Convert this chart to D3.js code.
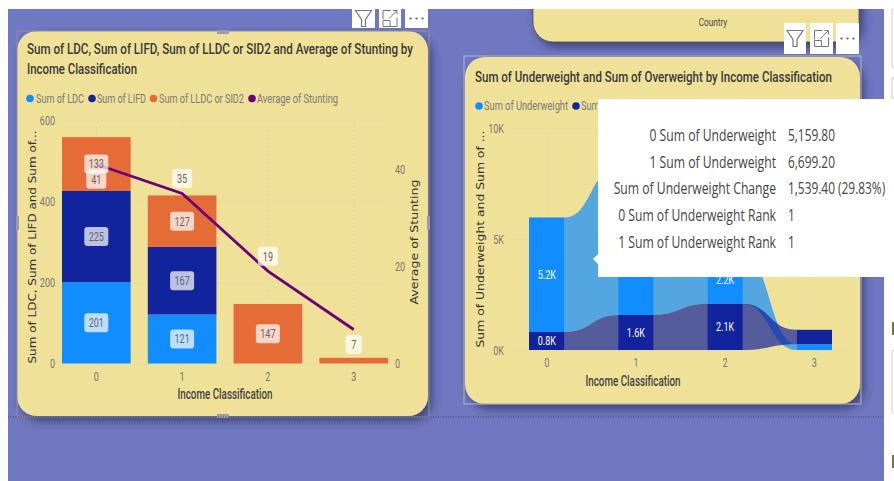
<!DOCTYPE html>
<html>
<head>
<meta charset="utf-8">
<script src="https://cdn.jsdelivr.net/npm/d3@7"></script>
<style>
  html, body { margin: 0; padding: 0; background: #fff; overflow: hidden; }
  svg { display: block; }
  .tick text { font-family: Roboto, sans-serif; }
</style>
</head>
<body>
<svg id="chart" width="894" height="481"></svg>
<script>
// left chart values
var categories = ["0", "1", "2", "3"];
var ldc = [201, 121, 0, 0];
var lifd = [225, 167, 0, 0];
var lldc = [133, 127, 147, 14];
var stunting = [41, 35, 19, 7];
var stuntingLabelBelow = [true, false, false, true];
var leftTicks = [0, 200, 400, 600];
var stuntingTicks = [0, 20, 40];

// right chart values
var underweight = [5159.8, 6699.2, 2200, 260];
var overweight = [810, 1580, 2080, 650];
var ribbonTicks = [0, 5000, 10000];

// tooltip rows
var tipNames = ["0 Sum of Underweight", "1 Sum of Underweight", "Sum of Underweight Change", "0 Sum of Underweight Rank", "1 Sum of Underweight Rank"];
var tipValues = ["5,159.80", "6,699.20", "1,539.40 (29.83%)", "1", "1"];

var blue = "#118DFF", navy = "#12239E", orange = "#E66C37", purple = "#6B007B";
var cardFill = "#EFE197", pageFill = "#7078C1";
var narrow = 'Roboto, sans-serif';

var svg = d3.select("#chart");
var defs = svg.append("defs");
var shadow = defs.append("filter").attr("id", "shadow")
  .attr("x", "-10%").attr("y", "-10%").attr("width", "125%").attr("height", "125%");
shadow.append("feDropShadow").attr("dx", 4).attr("dy", 5).attr("stdDeviation", 5)
  .attr("flood-color", "#2a2d55").attr("flood-opacity", 0.7);

function squeeze(t, k) {
  t.attr("textLength", t.node().getComputedTextLength() * k).attr("lengthAdjust", "spacingAndGlyphs");
}

function txt(parent, x, y, s, o) {
  o = o || {};
  var t = parent.append("text")
    .attr("x", x).attr("y", y).attr("dy", "0.35em")
    .attr("text-anchor", o.anchor || "start")
    .attr("font-family", o.font || narrow)
    .attr("font-size", o.size || 10)
    .attr("font-weight", o.weight || 400)
    .attr("fill", o.color || "#333")
    .text(s);
  if (o.len) t.attr("textLength", o.len).attr("lengthAdjust", "spacingAndGlyphs");
  if (o.squeeze) squeeze(t, o.squeeze);
  if (o.rotate) t.attr("transform", "rotate(-90 " + x + " " + y + ")");
  return t;
}

function card(x, y, w, h) {
  svg.append("rect").attr("x", x).attr("y", y).attr("width", w).attr("height", h)
    .attr("rx", 20).attr("fill", cardFill).attr("filter", "url(#shadow)");
}

function iconBox(x, y, w, h, kind) {
  var g = svg.append("g").attr("transform", "translate(" + x + "," + y + ")");
  g.append("rect").attr("width", w).attr("height", h).attr("fill", "#fff");
  var cx = w / 2, cy = h / 2;
  if (kind == "filter") {
    g.append("path").attr("d", "M" + (cx - 8) + " " + (cy - 8) + "H" + (cx + 8) + "L" + (cx + 2) + " " + (cy + 1) + "V" + (cy + 8) + "H" + (cx - 2) + "V" + (cy + 1) + "Z")
      .attr("fill", "none").attr("stroke", "#777").attr("stroke-width", 1.2);
  } else if (kind == "focus") {
    g.append("path").attr("d", "M" + (cx - 7) + " " + (cy + 1) + "V" + (cy - 8) + "H" + (cx + 1) + "M" + (cx + 7) + " " + (cy - 1) + "V" + (cy + 8) + "H" + (cx - 7) + "V" + (cy + 2) + "H" + cx + "V" + (cy + 8) + "M" + (cx - 1) + " " + cy + "L" + (cx + 7) + " " + (cy - 8) + "M" + (cx + 3) + " " + (cy - 8) + "H" + (cx + 7) + "V" + (cy - 4))
      .attr("fill", "none").attr("stroke", "#777").attr("stroke-width", 1);
  } else {
    [-6, 0, 6].forEach(function (d) {
      g.append("circle").attr("cx", cx + d).attr("cy", cy).attr("r", 1.1).attr("fill", "#555");
    });
  }
}

function legend(items, y) {
  items.forEach(function (d) {
    svg.append("circle").attr("cx", d.dot).attr("cy", y).attr("r", 3.8).attr("fill", d.color);
    txt(svg, d.text, y, d.name, { size: 12.5, color: "#7a7a7a", len: d.len });
  });
}

function styleAxis(g) {
  g.select(".domain").remove();
  g.selectAll(".tick line").attr("stroke", "#d9d2a6").attr("stroke-dasharray", "1,3").attr("stroke-width", 1);
  g.selectAll(".tick text").attr("fill", "#777").attr("font-size", 12.5)
    .each(function () { squeeze(d3.select(this), 0.72); });
}

// page background
svg.append("rect").attr("x", 8).attr("y", 9).attr("width", 876).attr("height", 472).attr("fill", pageFill);

// top card, mostly off the crop
svg.append("rect").attr("x", 533).attr("y", -30).attr("width", 326).attr("height", 72)
  .attr("rx", 20).attr("fill", cardFill).attr("stroke", "#4a4a55").attr("stroke-width", 0.8).attr("filter", "url(#shadow)");
txt(svg, 713, 22, "Country", { anchor: "middle", size: 10.5, color: "#444", squeeze: 0.78 });
svg.append("rect").attr("x", 0).attr("y", 0).attr("width", 894).attr("height", 9).attr("fill", "#fff");

// ---- left chart
card(17, 31, 411, 385);
txt(svg, 27, 49, "Sum of LDC, Sum of LIFD, Sum of LLDC or SID2 and Average of Stunting by", { size: 15.5, weight: 500, color: "#3a3a3a", len: 386 });
txt(svg, 27, 69, "Income Classification", { size: 15.5, weight: 500, color: "#3a3a3a", len: 110 });
legend([
  { dot: 30, text: 36, name: "Sum of LDC", color: blue, len: 48 },
  { dot: 92, text: 97, name: "Sum of LIFD", color: navy, len: 49 },
  { dot: 153.5, text: 159, name: "Sum of LLDC or SID2", color: orange, len: 85 },
  { dot: 252, text: 257, name: "Average of Stunting", color: purple, len: 81 }
], 98.5);

var x = d3.scaleBand().domain(categories).range([62, 388]).paddingInner(0.2).paddingOuter(0);
var y = d3.scaleLinear().domain([0, 600]).range([363.5, 120.5]);
var y2 = d3.scaleLinear().domain([0, 50]).range([363.5, 120.5]);

var gridX = svg.append("g").attr("transform", "translate(0,363.5)")
  .call(d3.axisBottom(x).tickSize(-243).tickPadding(9));
styleAxis(gridX);
var gridY = svg.append("g").attr("transform", "translate(62,0)")
  .call(d3.axisLeft(y).tickValues(leftTicks).tickSize(-326).tickPadding(7));
styleAxis(gridY);
var axisR = svg.append("g").attr("transform", "translate(388,0)")
  .call(d3.axisRight(y2).tickValues(stuntingTicks).tickSize(-4).tickPadding(7));
styleAxis(axisR);

var rowsLeft = categories.map(function (c, i) { return { cat: c, ldc: ldc[i], lifd: lifd[i], lldc: lldc[i] }; });
var stacked = d3.stack().keys(["ldc", "lifd", "lldc"])(rowsLeft);
var leftColor = { ldc: blue, lifd: navy, lldc: orange };

stacked.forEach(function (s) {
  svg.append("g").selectAll("rect").data(s).join("rect")
    .attr("x", function (d) { return x(d.data.cat); })
    .attr("y", function (d) { return y(d[1]); })
    .attr("width", x.bandwidth())
    .attr("height", function (d) { return y(d[0]) - y(d[1]); })
    .attr("fill", leftColor[s.key]);
});

var line = d3.line()
  .x(function (d, i) { return x(categories[i]) + x.bandwidth() / 2; })
  .y(function (d) { return y2(d); });
svg.append("path").datum(stunting).attr("d", line)
  .attr("fill", "none").attr("stroke", purple).attr("stroke-width", 2.8);

function pill(cx, cy, s) {
  var w = s.length > 2 ? 24 : (s.length > 1 ? 20 : 16);
  svg.append("rect").attr("x", cx - w / 2).attr("y", cy - 9.5).attr("width", w).attr("height", 19)
    .attr("rx", 3).attr("fill", "#fff").attr("fill-opacity", 0.72);
  txt(svg, cx, cy, s, { anchor: "middle", size: 12.5, color: "#666", squeeze: 0.72 });
}

stunting.forEach(function (v, i) {
  var cx = x(categories[i]) + x.bandwidth() / 2;
  pill(cx, y2(v) + (stuntingLabelBelow[i] ? 15 : -15), String(v));
});
stacked.forEach(function (s) {
  s.forEach(function (d) {
    var h = y(d[0]) - y(d[1]);
    if (h < 15) return;
    pill(x(d.data.cat) + x.bandwidth() / 2, (y(d[0]) + y(d[1])) / 2, String(d[1] - d[0]));
  });
});

txt(svg, 225, 393.5, "Income Classification", { anchor: "middle", size: 14.5, weight: 500, color: "#444", len: 95 });
txt(svg, 32, 247, "Sum of LDC, Sum of LIFD and Sum of...", { anchor: "middle", size: 10.5, rotate: true, font: "DejaVu Sans", color: "#333", len: 233 });
txt(svg, 414, 242, "Average of Stunting", { anchor: "middle", size: 10.5, rotate: true, font: "DejaVu Sans", color: "#333", len: 125 });

// selection frame of left card
svg.append("rect").attr("x", 17).attr("y", 31).attr("width", 412).attr("height", 386)
  .attr("fill", "none").attr("stroke", "#8f90a8").attr("stroke-width", 1);
[[217, 30, 12, 4], [217, 414, 12, 4], [16, 216, 3, 14], [427, 216, 3, 14]].forEach(function (h) {
  svg.append("rect").attr("x", h[0]).attr("y", h[1]).attr("width", h[2]).attr("height", h[3]).attr("fill", "#9a9bab");
});
iconBox(352, 9, 23, 19, "filter");
iconBox(379, 9, 22, 19, "focus");
iconBox(405, 9, 23, 19, "more");

// dotted page edge
svg.append("line").attr("x1", 8).attr("x2", 882).attr("y1", 417).attr("y2", 417)
  .attr("stroke", "#4a4a55").attr("stroke-dasharray", "1,1.5");

// ---- right chart
card(465, 57, 395, 347);
txt(svg, 475, 77, "Sum of Underweight and Sum of Overweight by Income Classification", { size: 15.5, weight: 500, color: "#3a3a3a", len: 357 });
legend([
  { dot: 479, text: 484, name: "Sum of Underweight", color: blue, len: 84 },
  { dot: 576, text: 581, name: "Sum of Overweight", color: navy, len: 78 }
], 106);

var rx = d3.scaleBand().domain(categories).range([529, 832]).paddingInner(0.6).paddingOuter(0);
var ry = d3.scaleLinear().domain([0, 10000]).range([350, 128]);
var fmtK = function (d) { return d / 1000 + "K"; };

var rGridX = svg.append("g").attr("transform", "translate(0,350)")
  .call(d3.axisBottom(rx).tickSize(-222).tickPadding(8));
styleAxis(rGridX);
var rGridY = svg.append("g").attr("transform", "translate(510,0)")
  .call(d3.axisLeft(ry).tickValues(ribbonTicks).tickFormat(fmtK).tickSize(-340).tickPadding(6));
styleAxis(rGridY);

// at each category the bigger series sits on top
var ribbonSeries = [
  { name: "under", values: underweight, color: blue },
  { name: "over", values: overweight, color: navy }
];
ribbonSeries.forEach(function (s) {
  var other = s.name == "under" ? overweight : underweight;
  s.spans = s.values.map(function (v, i) {
    var base = v > other[i] ? other[i] : 0;
    return { cat: categories[i], y0: base, y1: base + v, value: v };
  });
});

var ribbonArea = d3.area()
  .x(function (d) { return d.x; })
  .y0(function (d) { return ry(d.y0); })
  .y1(function (d) { return ry(d.y1); })
  .curve(d3.curveBumpX);

ribbonSeries.forEach(function (s) {
  d3.pairs(s.spans).forEach(function (p) {
    var pts = [
      { x: rx(p[0].cat) + rx.bandwidth(), y0: p[0].y0, y1: p[0].y1 },
      { x: rx(p[1].cat), y0: p[1].y0, y1: p[1].y1 }
    ];
    svg.append("path").datum(pts).attr("d", ribbonArea).attr("fill", s.color).attr("fill-opacity", 0.7);
  });
});
ribbonSeries.forEach(function (s) {
  svg.append("g").selectAll("rect").data(s.spans).join("rect")
    .attr("x", function (d) { return rx(d.cat); })
    .attr("y", function (d) { return ry(d.y1); })
    .attr("width", rx.bandwidth())
    .attr("height", function (d) { return ry(d.y0) - ry(d.y1); })
    .attr("fill", s.color);
  s.spans.forEach(function (d) {
    var cy = (ry(d.y0) + ry(d.y1)) / 2;
    // labels that sit fully behind the tooltip never show
    if (ry(d.y0) - ry(d.y1) < 15 || (rx(d.cat) > 598 && cy < 277)) return;
    txt(svg, rx(d.cat) + rx.bandwidth() / 2, cy, (d.value / 1000).toFixed(1) + "K",
      { anchor: "middle", size: 12.5, color: "#fff", squeeze: 0.72 });
  });
});

txt(svg, 633, 380.5, "Income Classification", { anchor: "middle", size: 14.5, weight: 500, color: "#444", len: 95 });
txt(svg, 480, 239, "Sum of Underweight and Sum of ...", { anchor: "middle", size: 10.5, rotate: true, font: "DejaVu Sans", color: "#333", len: 217 });

svg.append("rect").attr("x", 464).attr("y", 56).attr("width", 397).attr("height", 348)
  .attr("fill", "none").attr("stroke", "#a9aacb").attr("stroke-width", 1.2);
iconBox(784, 23, 22, 31, "filter");
iconBox(810, 23, 23, 31, "focus");
iconBox(836, 23, 23, 31, "more");

// tooltip
svg.append("path").attr("d", "M598 99H894V277H598V264L593 259L598 254Z").attr("fill", "#fff");
var tipY = d3.scalePoint().domain(d3.range(tipNames.length)).range([135, 242]);
tipNames.forEach(function (n, i) {
  txt(svg, 776, tipY(i), n, { anchor: "end", size: 16.5, font: '"Open Sans", sans-serif', color: "#444", squeeze: 0.737 });
  txt(svg, 788, tipY(i), tipValues[i], { size: 16.5, font: '"Open Sans", sans-serif', color: "#444", squeeze: 0.72 });
});

// bits of the next pane on the far right
svg.append("rect").attr("x", 892).attr("y", 9).attr("width", 6).attr("height", 59).attr("rx", 2).attr("fill", "none").attr("stroke", "#ccc");
svg.append("rect").attr("x", 892).attr("y", 78).attr("width", 6).attr("height", 20).attr("fill", "none").attr("stroke", "#ccc");
svg.append("rect").attr("x", 892).attr("y", 350).attr("width", 6).attr("height", 63).attr("rx", 2).attr("fill", "none").attr("stroke", "#ccc");
svg.append("rect").attr("x", 892).attr("y", 322).attr("width", 2).attr("height", 13).attr("fill", "#8a6a4a");
svg.append("rect").attr("x", 892).attr("y", 455).attr("width", 2).attr("height", 13).attr("fill", "#8a6a4a");
</script>
</body>
</html>
